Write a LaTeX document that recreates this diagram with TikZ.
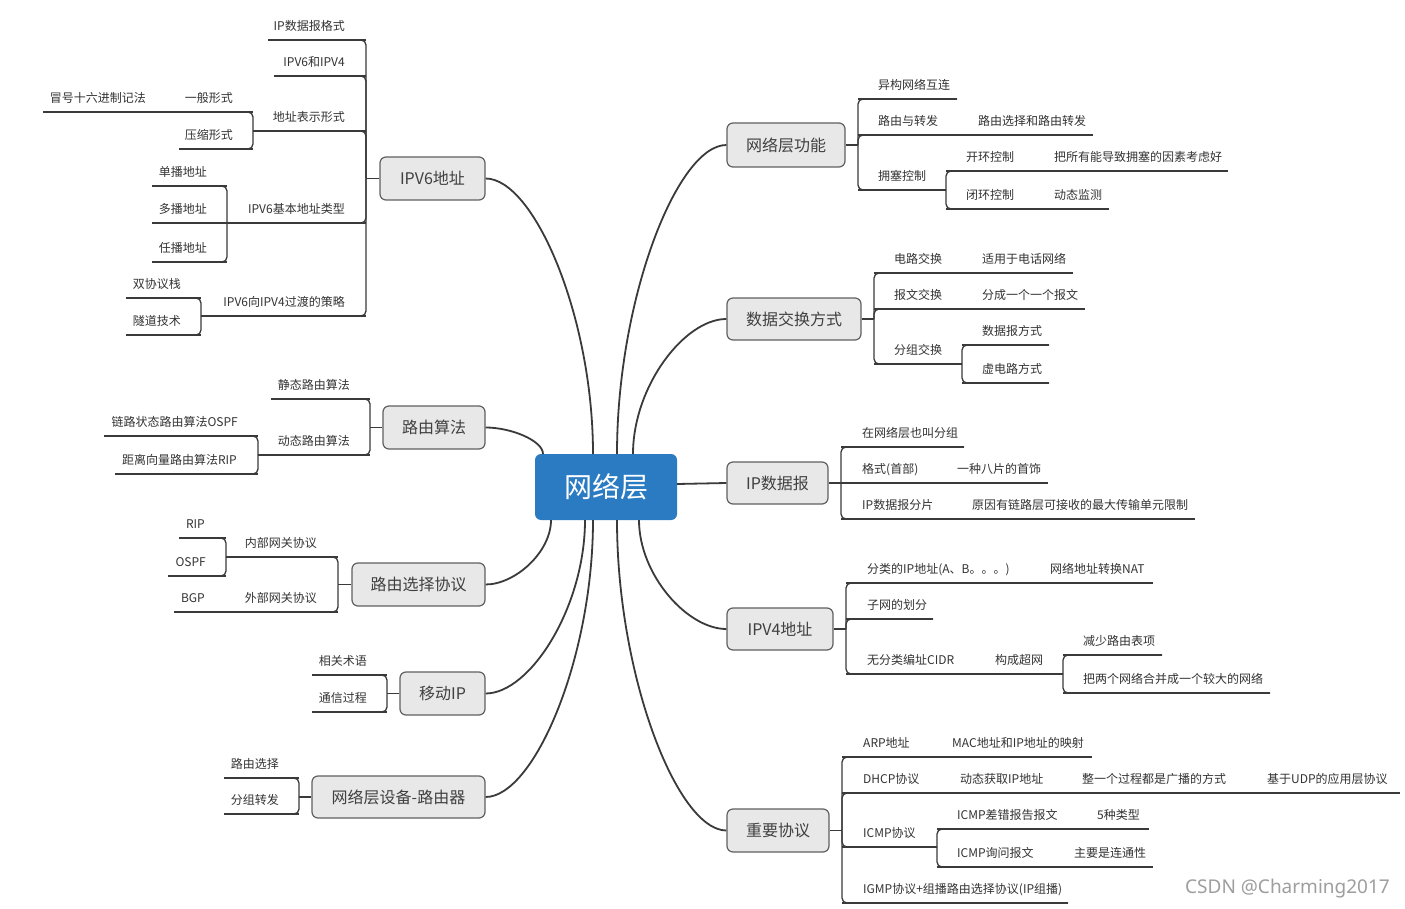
\documentclass[tikz,border=0pt]{standalone}
\usepackage{fontspec}
\usetikzlibrary{calc}
\newfontfamily\cjk{Noto Sans CJK SC}
\newfontfamily\wmfont{Noto Sans}
\definecolor{linec}{HTML}{3A3A3A}
\definecolor{txtc}{HTML}{333333}
\definecolor{boxf}{HTML}{E8E8E8}
\definecolor{boxd}{HTML}{606060}
\definecolor{boxt}{HTML}{404040}
\definecolor{ctrc}{HTML}{2B7BC2}
\newcommand\mmR[6]{%
  \node[leaf,anchor=base west] (#1) at (#2,#5-9.5) {#6};
  \coordinate (#1-a) at (#3,#5);
  \coordinate (#1-b) at (#4,#5);
  \draw[ul] (#1-a) -- (#1-b);}
\newcommand\mmL[6]{%
  \node[leaf,anchor=base east] (#1) at (#2,#5-9.5) {#6};
  \coordinate (#1-a) at (#3,#5);
  \coordinate (#1-b) at (#4,#5);
  \draw[ul] (#1-a) -- (#1-b);}
\newcommand\mmj[2]{\draw[ul,rounded corners=5pt] (#1) |- (#2);}
\newcommand\mmcurve[2]{\draw[main] let \p1=(#1), \p2=(#2) in (\p1) .. controls (\x1,{\y1+0.5*(\y2-\y1)}) and ({\x1+0.55*(\x2-\x1)},\y2) .. (\p2);}
\tikzset{
  ul/.style={draw=linec, line width=1.3pt},
  main/.style={draw=linec, line width=1.8pt},
  leaf/.style={font=\cjk\fontsize{12}{14}\selectfont, text=txtc, inner sep=0pt},
  topic/.style={draw=boxd, fill=boxf, line width=1.2pt, rounded corners=6pt,
    font=\cjk\fontsize{16}{18}\selectfont, text=boxt, inner sep=0pt},
  central/.style={fill=ctrc, rounded corners=6pt, font=\cjk\fontsize{28}{30}\selectfont,
    text=white, inner sep=0pt, minimum width=142pt, minimum height=66pt},
}
\begin{document}
\begin{tikzpicture}[x=1pt,y=-1pt]
\fill[white] (0,0) rectangle (1405,909);
\useasboundingbox (0,0) rectangle (1405,909);

% central node
\node[central] (c) at (606,487) {网络层};
\coordinate (ct1) at (543,454);
\coordinate (ct2) at (593,454);
\coordinate (ct3) at (617,454);
\coordinate (ct4) at (633,454);
\coordinate (cb1) at (551,520);
\coordinate (cb2) at (585,520);
\coordinate (cb3) at (593,520);
\coordinate (cb4) at (617,520);
\coordinate (cb5) at (639,520);
\coordinate (ce) at (677,484);

% topic boxes
\node[topic, minimum width=118pt, minimum height=44pt] (f1) at (786,145) {网络层功能};
\node[topic, minimum width=134pt, minimum height=42pt] (f2) at (794,319) {数据交换方式};
\node[topic, minimum width=101pt, minimum height=42pt] (f3) at (777.5,483) {IP数据报};
\node[topic, minimum width=106pt, minimum height=42pt] (f4) at (780,629) {IPV4地址};
\node[topic, minimum width=102pt, minimum height=43pt] (f5) at (778,830.5) {重要协议};
\node[topic, minimum width=105pt, minimum height=43pt] (g1) at (432.5,178.5) {IPV6地址};
\node[topic, minimum width=102pt, minimum height=43pt] (g2) at (434,427.5) {路由算法};
\node[topic, minimum width=133pt, minimum height=43pt] (g3) at (418.5,584.5) {路由选择协议};
\node[topic, minimum width=85pt, minimum height=43pt] (g4) at (442.5,693.5) {移动IP};
\node[topic, minimum width=173pt, minimum height=42pt] (g5) at (398.5,797) {网络层设备-路由器};

% main curves
\mmcurve{ct1}{g2.east}
\mmcurve{ct2}{g1.east}
\mmcurve{ct3}{f1.west}
\mmcurve{ct4}{f2.west}
\mmcurve{cb1}{g3.east}
\mmcurve{cb2}{g4.east}
\mmcurve{cb3}{g5.east}
\mmcurve{cb4}{f5.west}
\mmcurve{cb5}{f4.west}
\draw[main] (ce) -- (f3.west);

% ---------- 网络层功能 ----------
\coordinate (f1s) at (858,145);
\draw[ul] (f1.east) -- (f1s);
\mmR{f1a}{878}{858}{957}{99}{异构网络互连}
\mmR{f1b}{878}{858}{968}{135}{路由与转发}
\mmR{f1b1}{978}{968}{1093}{135}{路由选择和路由转发}
\mmR{f1c}{878}{858}{946}{190}{拥塞控制}
\mmR{f1c1}{966}{946}{1044}{171}{开环控制}
\mmR{f1c1a}{1054}{1044}{1228}{171}{把所有能导致拥塞的因素考虑好}
\mmR{f1c2}{966}{946}{1044}{209}{闭环控制}
\mmR{f1c2a}{1054}{1044}{1109}{209}{动态监测}
\mmj{f1s}{f1a-b}
\mmj{f1s}{f1b-b}
\mmj{f1s}{f1c-b}
\mmj{f1c-b}{f1c1-b}
\mmj{f1c-b}{f1c2-b}

% ---------- 数据交换方式 ----------
\coordinate (f2s) at (874,319);
\draw[ul] (f2.east) -- (f2s);
\mmR{f2a}{894}{874}{972}{273}{电路交换}
\mmR{f2a1}{982}{972}{1073}{273}{适用于电话网络}
\mmR{f2b}{894}{874}{972}{309}{报文交换}
\mmR{f2b1}{982}{972}{1085}{309}{分成一个一个报文}
\mmR{f2c}{894}{874}{962}{364}{分组交换}
\mmR{f2c1}{982}{962}{1049}{345}{数据报方式}
\mmR{f2c2}{982}{962}{1049}{383}{虚电路方式}
\mmj{f2s}{f2a-b}
\mmj{f2s}{f2b-b}
\mmj{f2s}{f2c-b}
\mmj{f2c-b}{f2c1-b}
\mmj{f2c-b}{f2c2-b}

% ---------- IP数据报 ----------
\coordinate (f3s) at (841,483);
\draw[ul] (f3.east) -- (f3s);
\mmR{f3a}{862}{841}{964}{447}{在网络层也叫分组}
\mmR{f3b}{862}{841}{947}{483}{格式(首部)}
\mmR{f3b1}{957}{947}{1048}{483}{一种八片的首饰}
\mmR{f3c}{862}{841}{962}{519}{IP数据报分片}
\mmR{f3c1}{972}{962}{1195}{519}{原因有链路层可接收的最大传输单元限制}
\mmj{f3s}{f3a-b}
\mmj{f3s}{f3c-b}

% ---------- IPV4地址 ----------
\coordinate (f4s) at (846,629);
\draw[ul] (f4.east) -- (f4s);
\mmR{f4a}{867}{846}{1040}{583}{分类的IP地址(A、B。。。)}
\mmR{f4a1}{1050}{1040}{1153}{583}{网络地址转换NAT}
\mmR{f4b}{867}{846}{933}{619}{子网的划分}
\mmR{f4c}{867}{846}{985}{674}{无分类编址CIDR}
\mmR{f4c1}{995}{985}{1063}{674}{构成超网}
\mmR{f4c1a}{1083}{1063}{1162}{655}{减少路由表项}
\mmR{f4c1b}{1083}{1063}{1270}{693}{把两个网络合并成一个较大的网络}
\mmj{f4s}{f4a-b}
\mmj{f4s}{f4b-b}
\mmj{f4s}{f4c-b}
\mmj{f4c1-b}{f4c1a-b}
\mmj{f4c1-b}{f4c1b-b}

% ---------- 重要协议 ----------
\coordinate (f5s) at (842,830.5);
\draw[ul] (f5.east) -- (f5s);
\mmR{f5a}{863}{842}{942}{757}{ARP地址}
\mmR{f5a1}{952}{942}{1092}{757}{MAC地址和IP地址的映射}
\mmR{f5b}{863}{842}{950}{793}{DHCP协议}
\mmR{f5b1}{960}{950}{1072}{793}{动态获取IP地址}
\mmR{f5b2}{1082}{1072}{1257}{793}{整一个过程都是广播的方式}
\mmR{f5b3}{1267}{1257}{1400}{793}{基于UDP的应用层协议}
\mmR{f5c}{863}{842}{937}{847}{ICMP协议}
\mmR{f5c1}{957}{937}{1087}{829}{ICMP差错报告报文}
\mmR{f5c1a}{1097}{1087}{1149}{829}{5种类型}
\mmR{f5c2}{957}{937}{1064}{867}{ICMP询问报文}
\mmR{f5c2a}{1074}{1064}{1153}{867}{主要是连通性}
\mmR{f5d}{863}{842}{1068}{903}{IGMP协议+组播路由选择协议(IP组播)}
\mmj{f5s}{f5a-b}
\mmj{f5s}{f5b-b}
\mmj{f5s}{f5c-b}
\mmj{f5s}{f5d-b}
\mmj{f5c-b}{f5c1-b}
\mmj{f5c-b}{f5c2-b}

% ---------- IPV6地址 ----------
\coordinate (g1s) at (366,178.5);
\draw[ul] (g1.west) -- (g1s);
\mmL{g1a}{345}{268}{366}{40}{IP数据报格式}
\mmL{g1b}{345}{274}{366}{76}{IPV6和IPV4}
\mmL{g1c}{345}{253}{366}{131}{地址表示形式}
\mmL{g1c1}{233}{179}{253}{112}{一般形式}
\mmL{g1c1a}{146}{43}{179}{112}{冒号十六进制记法}
\mmL{g1c2}{233}{179}{253}{149}{压缩形式}
\mmL{g1d}{345}{227}{366}{223}{IPV6基本地址类型}
\mmL{g1d1}{207}{152}{227}{186}{单播地址}
\mmL{g1d2}{207}{152}{227}{223}{多播地址}
\mmL{g1d3}{207}{152}{227}{262}{任播地址}
\mmL{g1e}{345}{201}{366}{316}{IPV6向IPV4过渡的策略}
\mmL{g1e1}{181}{126}{201}{298}{双协议栈}
\mmL{g1e2}{181}{126}{201}{335}{隧道技术}
\mmj{g1s}{g1a-a}
\mmj{g1s}{g1b-a}
\mmj{g1s}{g1c-a}
\mmj{g1s}{g1d-a}
\mmj{g1s}{g1e-a}
\mmj{g1c-a}{g1c1-a}
\mmj{g1c-a}{g1c2-a}
\mmj{g1d-a}{g1d1-a}
\mmj{g1d-a}{g1d3-a}
\mmj{g1e-a}{g1e1-a}
\mmj{g1e-a}{g1e2-a}

% ---------- 路由算法 ----------
\coordinate (g2s) at (370,427.5);
\draw[ul] (g2.west) -- (g2s);
\mmL{g2a}{350}{271}{370}{399}{静态路由算法}
\mmL{g2b}{350}{258}{370}{455}{动态路由算法}
\mmL{g2b1}{238}{104}{258}{436}{链路状态路由算法OSPF}
\mmL{g2b2}{237}{115}{258}{474}{距离向量路由算法RIP}
\mmj{g2s}{g2a-a}
\mmj{g2s}{g2b-a}
\mmj{g2b-a}{g2b1-a}
\mmj{g2b-a}{g2b2-a}

% ---------- 路由选择协议 ----------
\coordinate (g3s) at (338,584.5);
\draw[ul] (g3.west) -- (g3s);
\mmL{g3a}{317}{226}{338}{557}{内部网关协议}
\mmL{g3a1}{205}{179}{226}{538}{RIP}
\mmL{g3a2}{206}{168}{226}{576}{OSPF}
\mmL{g3b}{317}{239}{338}{612}{外部网关协议}
\mmL{g3b1}{205}{174}{239}{612}{BGP}
\mmj{g3s}{g3a-a}
\mmj{g3s}{g3b-a}
\mmj{g3a-a}{g3a1-a}
\mmj{g3a-a}{g3a2-a}

% ---------- 移动IP ----------
\coordinate (g4s) at (387,693.5);
\draw[ul] (g4.west) -- (g4s);
\mmL{g4a}{367}{312}{387}{675}{相关术语}
\mmL{g4b}{367}{312}{387}{712}{通信过程}
\mmj{g4s}{g4a-a}
\mmj{g4s}{g4b-a}

% ---------- 网络层设备-路由器 ----------
\coordinate (g5s) at (299,797);
\draw[ul] (g5.west) -- (g5s);
\mmL{g5a}{279}{224}{299}{778}{路由选择}
\mmL{g5b}{279}{224}{299}{814}{分组转发}
\mmj{g5s}{g5a-a}
\mmj{g5s}{g5b-a}

% watermark
\node[font=\wmfont\fontsize{19}{21}\selectfont, text=black!38, inner sep=0pt, anchor=east] (wm) at (1390,888.5) {CSDN @Charming2017};
\end{tikzpicture}
\end{document}
